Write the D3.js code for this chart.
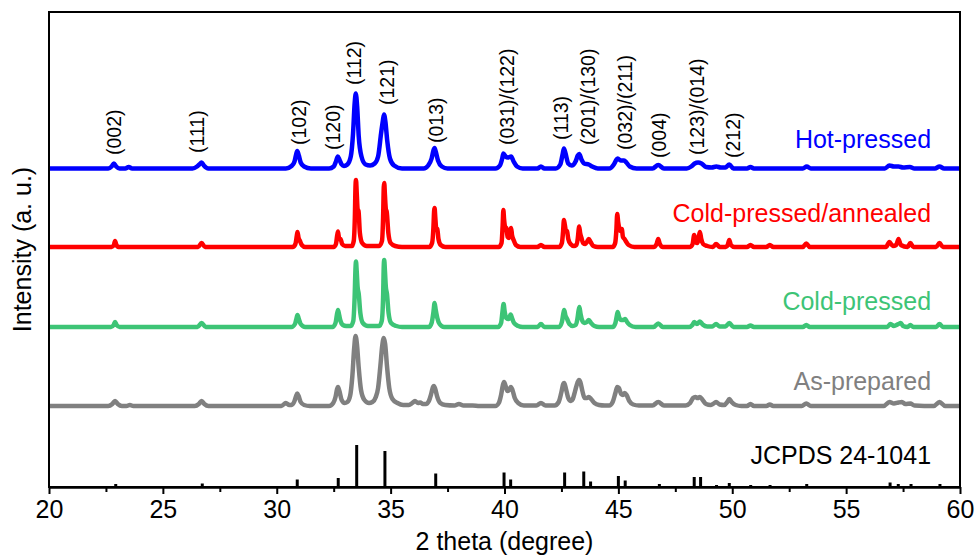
<!DOCTYPE html>
<html>
<head>
<meta charset="utf-8">
<script src="https://cdn.jsdelivr.net/npm/d3@7"></script>
<style>
  body { margin: 0; background: #fff; }
  text { font-family: 'Liberation Sans', Arial, sans-serif; }
</style>
</head>
<body>
<div id="chart"></div>
<script>
const config = {
    width: 977,
    height: 557,
    marginTop: 12,
    marginRight: 17,
    marginBottom: 70,
    marginLeft: 49
};

// 2 theta ticks
const majorTicks = [20, 25, 30, 35, 40, 45, 50, 55, 60];
const minorTicks = [22.5, 27.5, 32.5, 37.5, 42.5, 47.5, 52.5, 57.5];

// series, bottom to top
const seriesNames = ['As-prepared', 'Cold-pressed', 'Cold-pressed/annealed', 'Hot-pressed'];
const seriesColors = ['#808080', '#3dc476', '#ff0000', '#0000ff'];
const seriesOffsets = [81, 160, 240, 318.5];

// [2theta, intensity above own baseline]
const asPrepared = [
    [20, 0], [22.6, 0], [22.78, 2], [22.9, 5], [23.02, 2], [23.2, 0], [23.4, 0], [23.55, 1], [23.7, 0],
    [26.4, 0], [26.58, 2], [26.7, 5], [26.82, 2], [27.0, 0],
    [30.2, 0], [30.4, 3], [30.55, 1], [30.65, 1], [30.78, 5], [30.85, 10], [30.9, 12.5], [30.96, 10], [31.05, 4], [31.2, 1], [31.45, 0],
    [32.3, 0], [32.48, 3], [32.58, 9], [32.65, 17], [32.69, 19], [32.75, 15], [32.85, 6], [32.98, 3], [33.1, 4],
    [33.22, 10], [33.32, 30], [33.4, 58], [33.46, 70], [33.52, 62], [33.6, 38], [33.7, 16], [33.85, 6], [34.05, 3], [34.2, 4], [34.35, 9],
    [34.45, 18], [34.55, 40], [34.63, 60], [34.7, 68], [34.76, 62], [34.84, 40], [34.94, 18], [35.08, 7], [35.3, 3], [35.55, 1],
    [35.8, 1], [35.95, 3], [36.07, 5], [36.2, 3], [36.3, 3.5], [36.42, 2],
    [36.55, 2], [36.68, 5], [36.78, 12], [36.86, 19], [36.9, 20], [36.96, 17], [37.05, 9], [37.18, 3], [37.4, 1],
    [37.8, 0.5], [38.0, 2], [38.2, 0.5], [38.6, 0.5], [38.9, 0],
    [39.6, 0], [39.75, 3], [39.85, 11], [39.93, 21], [39.98, 24], [40.05, 20], [40.13, 15], [40.2, 16], [40.28, 19], [40.35, 16], [40.45, 8], [40.6, 3], [40.85, 0.5],
    [41.4, 0.5], [41.6, 3], [41.8, 0.5],
    [42.2, 0.5], [42.38, 4], [42.5, 14], [42.58, 22], [42.62, 23], [42.7, 17], [42.8, 8], [42.92, 5], [43.0, 7],
    [43.1, 15], [43.2, 23], [43.27, 26], [43.33, 24], [43.42, 15], [43.52, 8],
    [43.62, 8], [43.7, 9], [43.8, 7], [43.95, 3], [44.15, 1], [44.4, 0.5],
    [44.6, 0.5], [44.75, 4], [44.87, 13], [44.95, 19], [45.02, 18], [45.12, 12], [45.2, 11], [45.28, 13], [45.36, 11], [45.48, 5], [45.65, 1.5], [45.9, 0.5],
    [46.5, 0.5], [46.75, 4], [47.0, 0.5],
    [47.95, 0.5], [48.15, 3], [48.28, 8], [48.38, 9], [48.48, 8], [48.58, 9], [48.7, 6], [48.85, 2], [49.05, 1],
    [49.15, 2], [49.29, 4], [49.45, 1.5],
    [49.65, 1], [49.78, 4], [49.87, 7], [49.97, 4], [50.15, 1], [50.4, 0],
    [50.65, 0], [50.8, 2], [50.95, 0], [51.5, 0], [51.65, 1.5], [51.8, 0],
    [53.05, 0], [53.25, 2.5], [53.45, 0],
    [56.65, 0], [56.9, 4], [57.1, 2.5], [57.3, 3.5], [57.45, 4], [57.6, 2], [57.82, 2.5], [58.0, 0.5],
    [58.85, 0], [59.1, 4], [59.35, 0], [60, 0]
];

const coldPressed = [
    [20, 0], [22.72, 0], [22.84, 2], [22.9, 5], [22.97, 2], [23.1, 0],
    [26.52, 0], [26.7, 4], [26.88, 0],
    [30.65, 0], [30.8, 3], [30.86, 8], [30.91, 12], [30.97, 8], [31.05, 3], [31.25, 0],
    [32.45, 0], [32.58, 4], [32.64, 12], [32.69, 17], [32.74, 12], [32.8, 6], [32.9, 2], [33.05, 1],
    [33.25, 1], [33.36, 6], [33.42, 30], [33.46, 60], [33.48, 65.5], [33.51, 56], [33.55, 40], [33.6, 33], [33.67, 14], [33.78, 4], [34.0, 1],
    [34.5, 1], [34.61, 6], [34.67, 30], [34.7, 62], [34.72, 67], [34.75, 56], [34.79, 40], [34.84, 33], [34.91, 14], [35.02, 4], [35.25, 1], [35.5, 0],
    [36.68, 0], [36.8, 4], [36.88, 15], [36.93, 24], [36.98, 17], [37.05, 9], [37.15, 3], [37.35, 0],
    [39.72, 0], [39.85, 4], [39.91, 15], [39.96, 23], [40.01, 15], [40.08, 9], [40.18, 8], [40.27, 12.5], [40.33, 9], [40.42, 4], [40.6, 1], [40.8, 0],
    [41.45, 0], [41.6, 3], [41.75, 0],
    [42.4, 0], [42.52, 5], [42.58, 13], [42.62, 17], [42.67, 12], [42.75, 8], [42.85, 3], [43.0, 1],
    [43.12, 2], [43.2, 8], [43.25, 16], [43.29, 20], [43.34, 13], [43.42, 6], [43.5, 4],
    [43.62, 5], [43.7, 7], [43.8, 4], [43.95, 1], [44.15, 0],
    [44.75, 0], [44.87, 4], [44.93, 11], [44.97, 15], [45.03, 10], [45.12, 7], [45.22, 7], [45.3, 8], [45.38, 5], [45.5, 2], [45.75, 0],
    [46.55, 0], [46.75, 3.5], [46.95, 0],
    [48.1, 0], [48.25, 2], [48.33, 5], [48.45, 3], [48.58, 5.5], [48.7, 2.5], [48.9, 0.5],
    [49.12, 0.5], [49.29, 3], [49.45, 0.5],
    [49.7, 0.5], [49.87, 4], [50.05, 0],
    [50.65, 0], [50.8, 1.5], [50.95, 0],
    [53.1, 0], [53.25, 2], [53.4, 0],
    [56.8, 0], [56.95, 3], [57.1, 1], [57.3, 3], [57.4, 4], [57.5, 1], [57.7, 0], [57.82, 2], [57.95, 0],
    [58.95, 0], [59.1, 3], [59.25, 0], [60, 0]
];

const coldAnnealed = [
    [20, 0], [22.75, 0], [22.85, 2], [22.9, 6], [22.95, 2.5], [23.05, 0],
    [26.55, 0], [26.7, 4], [26.85, 0],
    [30.7, 0], [30.82, 3], [30.88, 11], [30.91, 15], [30.96, 9], [31.02, 6], [31.1, 2], [31.25, 0],
    [32.5, 0], [32.6, 3], [32.65, 11], [32.69, 15.5], [32.74, 8], [32.8, 8], [32.87, 3], [33.0, 1],
    [33.3, 1], [33.38, 6], [33.43, 30], [33.46, 62], [33.48, 67], [33.51, 55], [33.55, 38], [33.59, 36], [33.65, 14], [33.75, 4], [33.95, 1],
    [34.5, 1], [34.62, 6], [34.67, 30], [34.7, 60], [34.72, 64], [34.75, 52], [34.79, 38], [34.83, 35], [34.9, 14], [35.0, 4], [35.2, 1], [35.5, 0],
    [36.7, 0], [36.82, 4], [36.88, 20], [36.91, 36], [36.93, 39], [36.96, 30], [37.0, 19], [37.05, 18], [37.1, 8], [37.2, 2], [37.4, 0],
    [39.75, 0], [39.87, 4], [39.92, 22], [39.95, 37], [39.98, 28], [40.03, 20], [40.08, 19], [40.14, 10], [40.2, 9], [40.26, 17], [40.29, 19], [40.33, 12], [40.4, 7], [40.5, 2], [40.7, 0],
    [41.45, 0], [41.6, 2], [41.75, 0],
    [42.4, 0], [42.52, 4], [42.57, 15], [42.61, 27], [42.65, 22], [42.7, 16], [42.74, 16], [42.8, 8], [42.9, 3], [43.05, 1],
    [43.15, 2], [43.22, 9], [43.26, 18], [43.28, 20.5], [43.32, 14], [43.38, 9], [43.45, 4], [43.55, 3],
    [43.62, 5], [43.7, 8], [43.78, 5], [43.9, 1], [44.1, 0],
    [44.75, 0], [44.86, 4], [44.91, 16], [44.95, 33], [44.99, 25], [45.05, 18], [45.1, 16], [45.15, 18], [45.2, 10], [45.27, 8], [45.35, 5], [45.45, 2], [45.7, 0],
    [46.55, 0], [46.68, 3], [46.75, 8], [46.82, 3], [46.95, 0],
    [48.15, 0], [48.26, 3], [48.33, 12], [48.4, 5], [48.47, 4], [48.52, 9], [48.58, 15], [48.64, 8], [48.72, 3], [48.9, 1],
    [49.15, 0], [49.29, 3], [49.45, 0],
    [49.72, 0], [49.8, 2], [49.87, 7], [49.94, 2], [50.1, 0],
    [50.65, 0], [50.8, 2], [50.95, 0], [51.5, 0], [51.65, 2], [51.8, 0],
    [53.1, 0], [53.25, 3.5], [53.4, 0],
    [56.75, 0], [56.9, 5], [57.05, 1], [57.2, 2], [57.3, 8], [57.4, 2], [57.7, 0], [57.82, 4], [57.95, 0],
    [58.95, 0], [59.1, 4], [59.25, 0], [60, 0]
];

const hotPressed = [
    [20, 0], [22.6, 0], [22.75, 2], [22.85, 5], [22.95, 2], [23.1, 0], [23.35, 0], [23.5, 1.5], [23.65, 0],
    [26.3, 0], [26.5, 2], [26.6, 4], [26.7, 6], [26.8, 3], [27.0, 0],
    [30.4, 0], [30.65, 2.5], [30.78, 7], [30.85, 14], [30.9, 17.5], [30.97, 13], [31.05, 6], [31.2, 2], [31.5, 0],
    [32.3, 0], [32.5, 2], [32.6, 7], [32.68, 12], [32.75, 9], [32.85, 4], [32.95, 2.5], [33.1, 4],
    [33.25, 12], [33.35, 35], [33.42, 65], [33.47, 75], [33.53, 62], [33.6, 32], [33.72, 12], [33.9, 4], [34.1, 3],
    [34.3, 5], [34.45, 12], [34.58, 35], [34.66, 48], [34.71, 54], [34.77, 47], [34.85, 28], [34.97, 10], [35.15, 3], [35.5, 0],
    [36.45, 0], [36.65, 3], [36.8, 10], [36.88, 18], [36.93, 20.5], [36.98, 17], [37.08, 8], [37.25, 2], [37.5, 0],
    [39.6, 0], [39.8, 3], [39.9, 10], [39.95, 15], [40.05, 12], [40.15, 11], [40.29, 12], [40.4, 7], [40.55, 2], [40.8, 0],
    [41.45, 0], [41.6, 2], [41.75, 0],
    [42.25, 0], [42.45, 4], [42.55, 14], [42.61, 20], [42.68, 15], [42.8, 5], [42.95, 3],
    [43.12, 7], [43.22, 13], [43.28, 14.5], [43.38, 9], [43.5, 5], [43.7, 4], [43.85, 2], [44.1, 0],
    [44.6, 0], [44.8, 4], [44.92, 9], [44.97, 10], [45.1, 8], [45.25, 8], [45.35, 6], [45.5, 2], [45.8, 0],
    [46.5, 0], [46.75, 3.5], [47.0, 0],
    [48.0, 0], [48.2, 2], [48.35, 5], [48.5, 6], [48.65, 5], [48.85, 1.5], [49.1, 1], [49.3, 2], [49.5, 1],
    [49.7, 1], [49.87, 4], [50.05, 0],
    [50.65, 0], [50.8, 1.5], [50.95, 0],
    [53.1, 0], [53.27, 2], [53.45, 0],
    [56.7, 0], [56.9, 3], [57.1, 2], [57.3, 2], [57.5, 1], [57.8, 1.5], [58.0, 0],
    [58.9, 0], [59.1, 2], [59.3, 0], [60, 0]
];

const seriesData = [asPrepared, coldPressed, coldAnnealed, hotPressed];

// JCPDS 24-1041 reference lines: [2theta, relative height]
const jcpdsLines = [
    [22.93, 3], [23.53, 1], [24.07, 1], [25.24, 1], [26.73, 3.5], [30.9, 7.5], [32.7, 9],
    [33.51, 42], [34.75, 36], [36.98, 13.5], [39.98, 14.5], [40.27, 7.5], [41.68, 1],
    [42.64, 14.5], [43.48, 15.5], [43.78, 5.5], [45.0, 11], [45.3, 6.5], [46.8, 3],
    [48.33, 10], [48.61, 10], [49.31, 2], [49.87, 4], [50.81, 2], [51.66, 2], [53.27, 3],
    [54.99, 1], [56.27, 1], [56.93, 4.5], [57.29, 3], [57.85, 3], [59.12, 3]
];

// Miller index labels: [text, 2theta, intensity where the label starts]
const peakLabels = [
    ['(002)', 22.85, 332], ['(111)', 26.5, 334], ['(102)', 30.99, 342], ['(120)', 32.48, 337],
    ['(112)', 33.39, 402], ['(121)', 34.83, 382], ['(013)', 37.02, 344], ['(031)/(122)', 40.1, 342],
    ['(113)', 42.48, 347], ['(201)/(130)', 43.68, 342], ['(032)/(211)', 45.32, 337], ['(004)', 46.78, 329],
    ['(123)/(014)', 48.46, 332], ['(212)', 50.05, 329]
];

// series names placed at right: [text, colour, baseline intensity]
const seriesLabels = [
    ['Hot-pressed', '#0000ff', 339],
    ['Cold-pressed/annealed', '#ff0000', 265],
    ['Cold-pressed', '#3dc476', 177],
    ['As-prepared', '#808080', 97],
    ['JCPDS 24-1041', '#000000', 23]
];

const svg = d3.select('#chart')
    .append('svg')
    .attr('width', config.width)
    .attr('height', config.height);

const xScale = d3.scaleLinear()
    .domain([20, 60])
    .range([config.marginLeft, config.width - config.marginRight]);

const yScale = d3.scaleLinear()
    .domain([0, 475])
    .range([config.height - config.marginBottom, config.marginTop]);

const line = d3.line()
    .curve(d3.curveMonotoneX)
    .x(d => xScale(d[0]));

seriesData.forEach((data, i) => {
    svg.append('path')
        .datum(data)
        .attr('fill', 'none')
        .attr('stroke', seriesColors[i])
        .attr('stroke-width', 4.5)
        .attr('stroke-linejoin', 'round')
        .attr('d', line.y(d => yScale(d[1] + seriesOffsets[i])));
});

svg.append('g')
    .selectAll('line')
    .data(jcpdsLines)
    .join('line')
    .attr('x1', d => xScale(d[0]))
    .attr('x2', d => xScale(d[0]))
    .attr('y1', yScale(0))
    .attr('y2', d => yScale(d[1]))
    .attr('stroke', '#000')
    .attr('stroke-width', 3);

// frame
svg.append('rect')
    .attr('x', config.marginLeft)
    .attr('y', config.marginTop)
    .attr('width', config.width - config.marginLeft - config.marginRight)
    .attr('height', config.height - config.marginTop - config.marginBottom)
    .attr('fill', 'none')
    .attr('stroke', '#000')
    .attr('stroke-width', 2);

const xAxis = svg.append('g')
    .attr('transform', `translate(0,${config.height - config.marginBottom})`)
    .call(d3.axisBottom(xScale).tickValues(majorTicks).tickSize(7).tickPadding(6).tickSizeOuter(0));

xAxis.select('.domain').attr('stroke-width', 2.5);
xAxis.selectAll('.tick line').attr('stroke-width', 2);
xAxis.selectAll('.tick text')
    .attr('font-size', '25px')
    .attr('font-family', "'Liberation Sans', Arial, sans-serif")
    .attr('fill', '#000');

svg.append('g')
    .attr('transform', `translate(0,${config.height - config.marginBottom})`)
    .call(d3.axisBottom(xScale).tickValues(minorTicks).tickSize(5).tickFormat(''))
    .call(g => g.select('.domain').remove())
    .call(g => g.selectAll('.tick line').attr('stroke-width', 2));

svg.append('text')
    .attr('x', (config.marginLeft + config.width - config.marginRight) / 2)
    .attr('y', 550)
    .attr('text-anchor', 'middle')
    .attr('font-size', '25px')
    .text('2 theta (degree)');

svg.append('text')
    .attr('transform', `translate(31,${(config.marginTop + config.height - config.marginBottom) / 2}) rotate(-90)`)
    .attr('text-anchor', 'middle')
    .attr('font-size', '25px')
    .text('Intensity (a. u.)');

svg.append('g')
    .selectAll('text')
    .data(peakLabels)
    .join('text')
    .attr('transform', d => `translate(${xScale(d[1])},${yScale(d[2])}) rotate(-90)`)
    .attr('dy', '0.35em')
    .attr('font-size', '19.5px')
    .attr('fill', '#000')
    .text(d => d[0]);

svg.append('g')
    .selectAll('text')
    .data(seriesLabels)
    .join('text')
    .attr('x', xScale(58.73))
    .attr('y', d => yScale(d[2]))
    .attr('text-anchor', 'end')
    .attr('font-size', '25px')
    .attr('fill', d => d[1])
    .text(d => d[0]);
</script>
</body>
</html>
